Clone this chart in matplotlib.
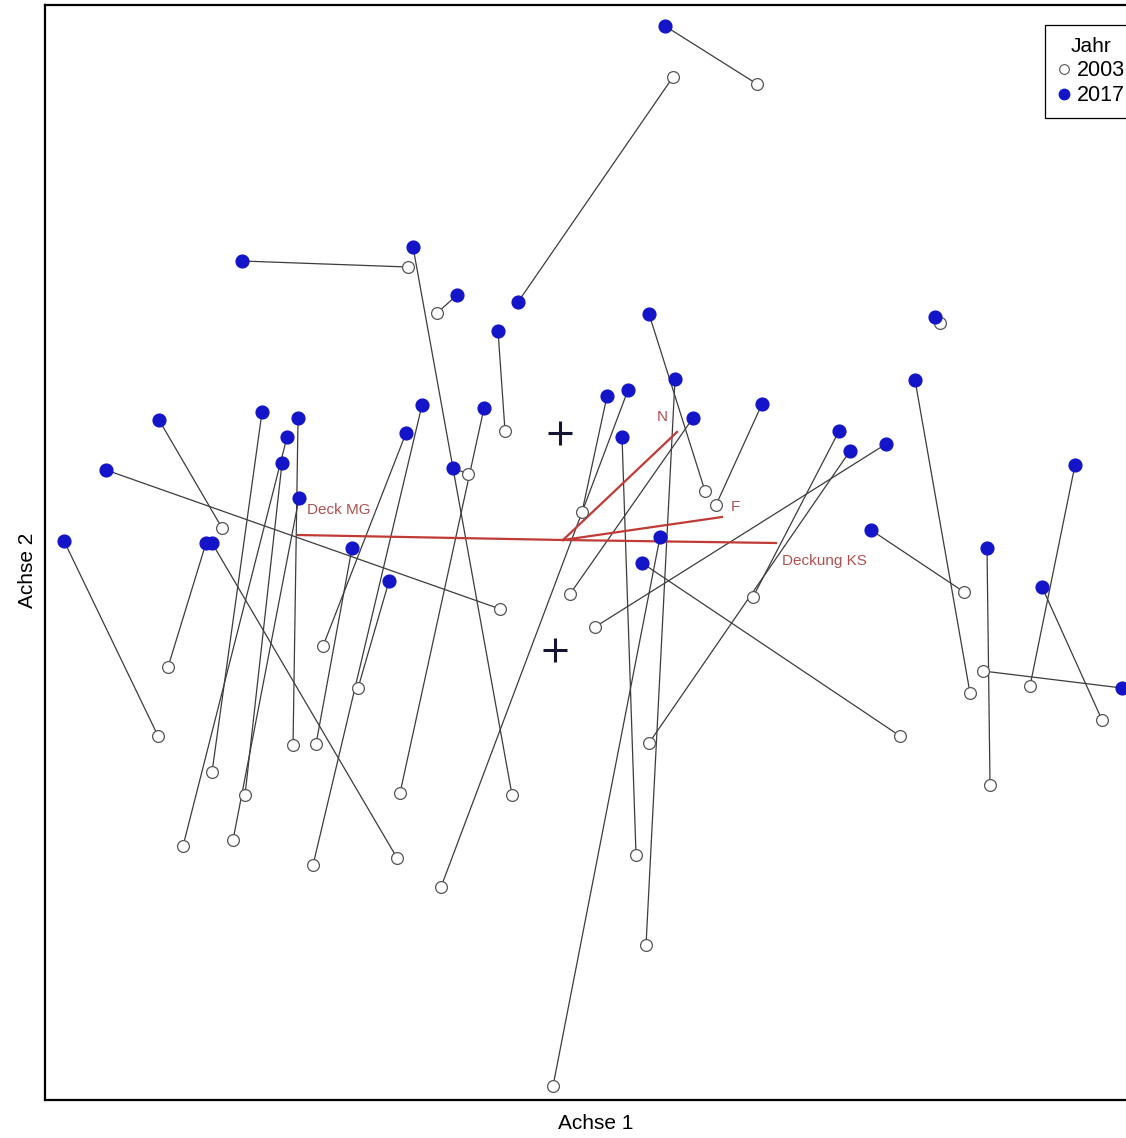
import matplotlib.pyplot as plt
from matplotlib.lines import Line2D

plt.rcParams['font.family'] = ['Liberation Sans', 'DejaVu Sans']

# Site scores on the first two axes, 2003 and 2017 (same order = same plot)
x2003 = [0.776, 0.44, -0.62, -0.204, -0.504, -0.232, 0.568, 1.508, 0.332, 1.628,
         -0.488, 0.076, 0.612, 0.028, 0.292, -0.652, -1.0, -0.96, -1.364, -1.404,
         -1.08, -1.52, -1.272, -0.252, -0.38, -1.32, 0.76, 0.344, 0.128, 1.604,
         1.708, 1.868, 2.156, 1.68, -1.62, -1.58, -0.664, -0.988, -0.82, -0.04, 1.348]
y2003 = [1.824, 1.852, 1.092, -1.02, 0.908, 0.436, 0.196, 0.868, -1.62, -0.612,
         -1.388, 0.112, 0.14, -0.216, -1.26, -1.012, -1.3, -0.424, 0.048, -0.928,
         -0.82, -1.224, -1.02, -0.276, 0.264, -1.2, -0.228, -0.812, -0.348, -0.208,
         -0.98, -0.584, -0.72, -0.524, -0.784, -0.508, -1.272, -0.816, -0.592, -2.184, -0.784]
x2017 = [0.408, -0.18, -1.284, -0.6, -0.424, -0.26, 0.344, 1.488, 0.448, 1.408,
         0.26, 0.176, 0.796, 0.52, 0.236, -0.316, -0.564, -0.628, -1.616, -1.204,
         -1.06, -1.104, -1.124, -1.828, -0.44, -1.056, 1.104, 1.148, 1.292, 1.232,
         1.696, 2.048, 1.916, 2.236, -1.996, -1.428, -1.404, -0.844, -0.696, 0.388, 0.316]
y2017 = [2.056, 0.952, 1.116, 1.172, 0.98, 0.836, 0.904, 0.892, 0.644, 0.64,
         0.6, 0.576, 0.544, 0.488, 0.412, 0.528, 0.54, 0.428, 0.48, 0.512,
         0.488, 0.412, 0.308, 0.28, 0.288, 0.168, 0.436, 0.356, 0.384, 0.04,
         -0.032, 0.3, -0.188, -0.592, -0.004, -0.012, -0.012, -0.032, -0.164, 0.012, -0.092]

# Group centroids
cent_x = [-0.012, -0.032]
cent_y = [0.428, -0.44]

# Environmental vectors (biplot arrows) and their label positions
env_names = ['Deck MG', 'N', 'F', 'Deckung KS']
env_x = [-1.06, 0.456, 0.636, 0.852]
env_y = [0.02, 0.432, 0.092, -0.012]
env_lab_x = [-1.024, 0.396, 0.672, 0.876]
env_lab_y = [0.12, 0.492, 0.132, -0.084]
env_ha = ['left', 'center', 'left', 'left']

fig = plt.figure(figsize=(11.26, 11.38), dpi=100)
ax = fig.add_axes([0.04, 0.0334, 0.968, 0.9622])

# successional vectors 2003 -> 2017
for i in range(len(x2003)):
    ax.plot([x2003[i], x2017[i]], [y2003[i], y2017[i]], color='#3c3c3c', lw=0.9, zorder=1)

ax.plot(x2003, y2003, 'o', ms=8.5, mfc='white', mec='#555555', mew=0.9, ls='none', zorder=3)
ax.plot(x2017, y2017, 'o', ms=9.2, mfc='#1414c8', mec='#1414c8', ls='none', zorder=4)

for i in range(len(env_names)):
    ax.plot([0, env_x[i]], [0, env_y[i]], color='#c03a36', lw=1.6, zorder=2)
    ax.text(env_lab_x[i], env_lab_y[i], env_names[i], color='#b05050', fontsize=11,
            ha=env_ha[i], va='center', zorder=5)

ax.plot(cent_x, cent_y, '+', ms=17, mew=2.2, color='#141430', ls='none', zorder=5)

ax.set_xlim(-2.072, 2.288)
ax.set_ylim(-2.24, 2.14)
ax.set_xticks([])
ax.set_yticks([])
for s in ax.spines.values():
    s.set_linewidth(1.6)

ax.set_xlabel('Achse 1', fontsize=15)
ax.set_ylabel('Achse 2', fontsize=15)
ax.xaxis.set_label_coords(0.505, -0.013)
ax.yaxis.set_label_coords(-0.007, 0.484)

handles = [Line2D([], [], marker='o', ls='none', ms=7, mfc='white', mec='#555555', mew=0.8),
           Line2D([], [], marker='o', ls='none', ms=7.5, mfc='#1414c8', mec='#1414c8')]
leg = ax.legend(handles, ['2003', '2017'], title='Jahr', loc='upper left',
                bbox_to_anchor=(1045 / 1126, 1 - 25 / 1138), bbox_transform=fig.transFigure,
                fontsize=15.5, title_fontsize=15, fancybox=False, framealpha=1,
                edgecolor='black', handlelength=0.7, handletextpad=0.25,
                labelspacing=0.2, borderpad=0.55, borderaxespad=0)
leg.get_frame().set_linewidth(0.9)

fig.savefig('out.png', dpi=100)
